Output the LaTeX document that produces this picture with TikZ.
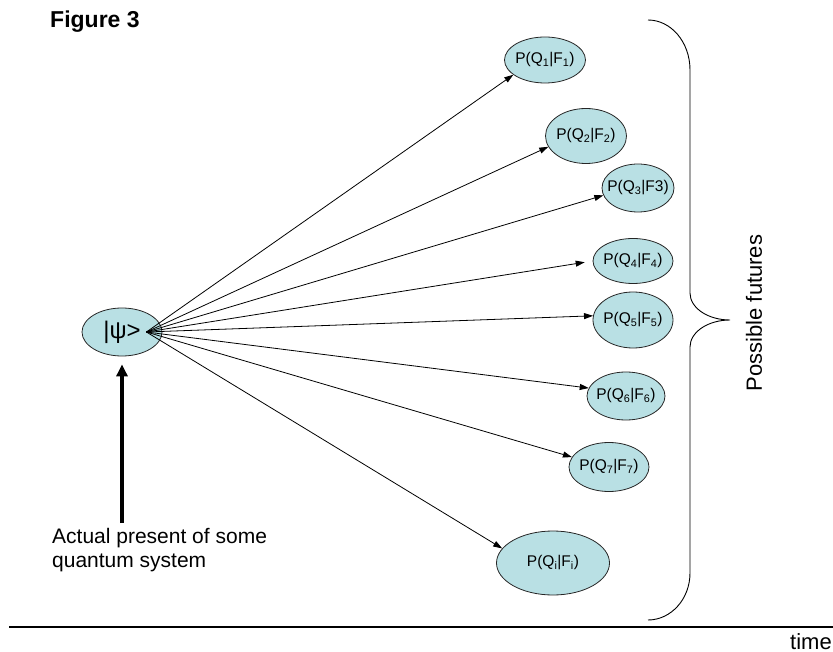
\documentclass[tikz,border=0pt]{standalone}
\usepackage{fontspec}
\setmainfont{Liberation Sans}
\usetikzlibrary{shapes.geometric,arrows.meta}
\definecolor{futurefill}{RGB}{185,224,228}
\begin{document}
\begin{tikzpicture}[x=1pt,y=-1pt,
  state/.style={ellipse, draw=black!85, line width=0.8pt, fill=futurefill,
    inner xsep=-40pt, inner ysep=-15pt, font=\fontsize{15.5}{18}\selectfont},
  conn/.style={line width=0.8pt, -{Triangle[length=9pt,width=6pt]}},
  caption/.style={font=\fontsize{21}{24}\selectfont, inner sep=0pt}]
\useasboundingbox (0,0) rectangle (833,652);

% title
\node[anchor=base west, inner sep=0pt, font=\bfseries\fontsize{23}{27}\selectfont] (title) at (50,28) {Figure 3};

% present state
\node[state, minimum width=80pt, minimum height=48pt, font=\fontsize{24}{28}\selectfont] (psi) at (122,332) {|ψ>};
\coordinate (src) at ([xshift=-16pt]psi.east);

% possible futures
\node[state, minimum width=81pt, minimum height=46pt] (f1) at (545,60) {P(Q\textsubscript{1}|F\textsubscript{1})};
\node[state, minimum width=81pt, minimum height=55pt] (f2) at (586,136) {P(Q\textsubscript{2}|F\textsubscript{2})};
\node[state, minimum width=72pt, minimum height=48pt] (f3) at (638,188) {P(Q\textsubscript{3}|F3)};
\node[state, minimum width=80pt, minimum height=45pt] (f4) at (633,261) {P(Q\textsubscript{4}|F\textsubscript{4})};
\node[state, minimum width=80pt, minimum height=56pt] (f5) at (633,320) {P(Q\textsubscript{5}|F\textsubscript{5})};
\node[state, minimum width=78pt, minimum height=48pt] (f6) at (626,396) {P(Q\textsubscript{6}|F\textsubscript{6})};
\node[state, minimum width=80pt, minimum height=49pt] (f7) at (609,467) {P(Q\textsubscript{7}|F\textsubscript{7})};
\node[state, minimum width=113pt, minimum height=64pt] (fi) at (553,563) {P(Q\textsubscript{i}|F\textsubscript{i})};

% branches from the present to each future
\draw[conn] (src) -- (f1.205);
\draw[conn] (src) -- (f2.196);
\draw[conn] (src) -- (f3.192);
\draw[conn, shorten >=8pt] (src) -- (f4.west);
\draw[conn] (src) -- (f5.174);
\draw[conn] (src) -- (f6.168);
\draw[conn] (src) -- (f7.165);
\draw[conn] (src) -- (fi.164);

% caption of the present state
\node[caption, anchor=north west, align=left] (present) at (52,528) {Actual present of some\\quantum system};
\draw[line width=3.5pt, -{Triangle[length=12pt,width=11pt]}, shorten <=5pt, shorten >=8pt]
  (psi.south |- present.north) -- (psi.south);

% brace around the futures
\draw[line width=0.9pt]
  (648,20) .. controls (671,20) and (690,42) .. (690,70) -- (690,293)
  .. controls (690,308) and (708,320) .. (730,320)
  .. controls (708,320) and (690,332) .. (690,347) -- (690,573)
  .. controls (690,599) and (671,620) .. (648,620);
\node[caption, rotate=90, font=\fontsize{22}{26}\selectfont] (futures) at (754,313) {Possible futures};

% time axis
\draw[line width=1.4pt] (9,627) -- (833,627);
\node[caption, anchor=base east, font=\fontsize{22}{26}\selectfont] (time) at (832,649) {time};
\end{tikzpicture}
\end{document}
